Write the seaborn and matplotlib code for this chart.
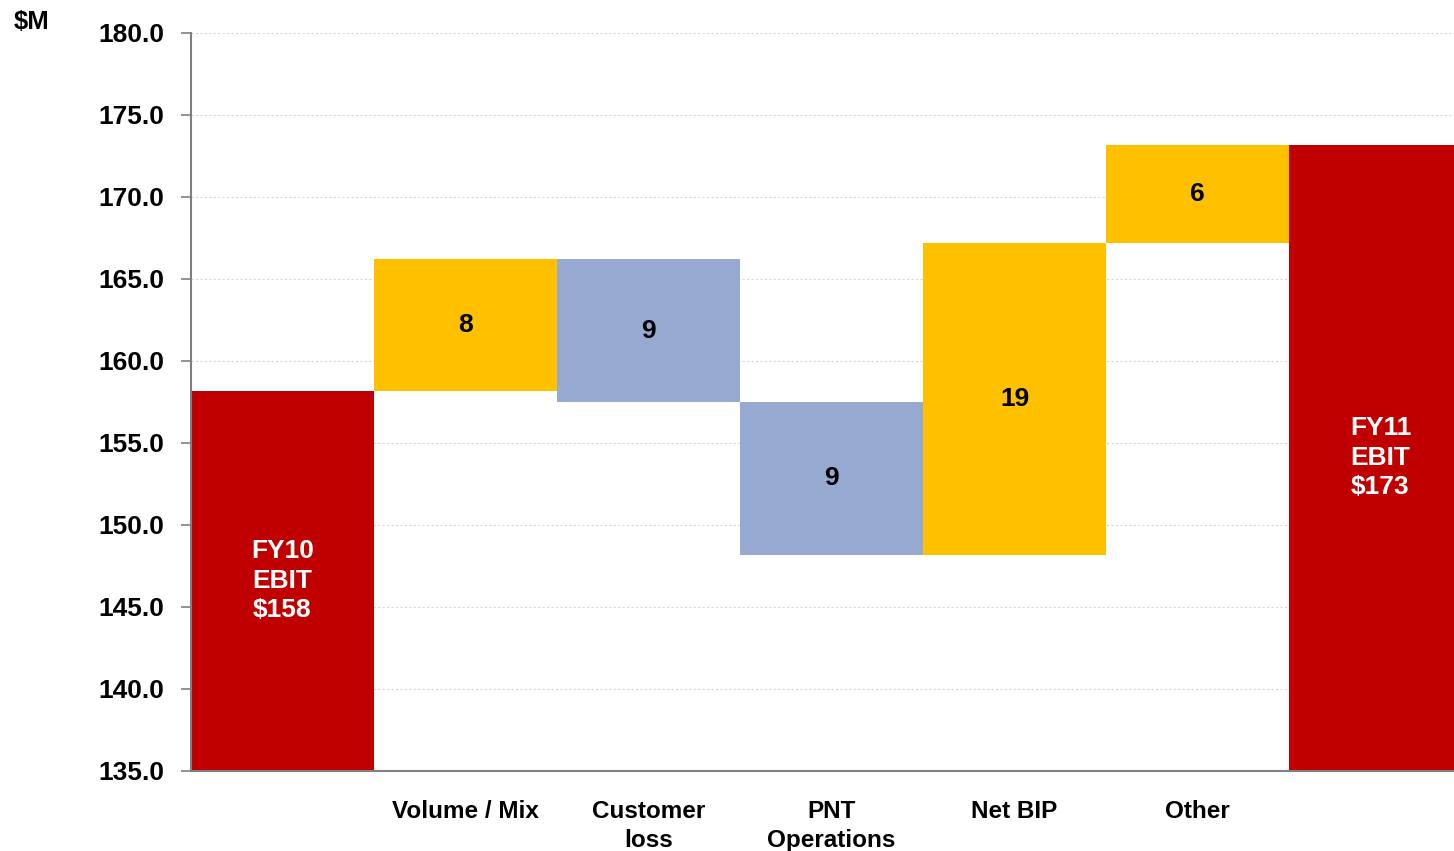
import matplotlib
matplotlib.use("Agg")
import matplotlib.pyplot as plt
import seaborn as sns
import numpy as np

# EBIT bridge, $M
categories = ["FY10", "Volume / Mix", "Customer\nloss", "PNT\nOperations", "Net BIP", "Other", "FY11"]
tick_labels = ["", "Volume / Mix", "Customer\nloss", "PNT\nOperations", "Net BIP", "Other", ""]
start_value = 158.2
changes = [8.0, -8.7, -9.3, 19.0, 6.0]
change_labels = ["8", "9", "9", "19", "6"]
end_value = 173.2
total_labels = ["FY10\nEBIT\n$158", "FY11\nEBIT\n$173"]

y_min, y_max = 135.0, 180.0
y_ticks = np.arange(135.0, 180.1, 5.0)

RED = "#C00000"
GOLD = "#FFC000"
BLUE = "#95A9D1"

sns.set_theme(style="white")
plt.rcParams["font.family"] = ["Liberation Sans", "DejaVu Sans"]
plt.rcParams["font.weight"] = "bold"
plt.rcParams["text.color"] = "black"

fig = plt.figure(figsize=(14.54, 8.51), dpi=100)
ax = fig.add_axes([191 / 1454, 80 / 851, 1281 / 1454, 738 / 851])

# Build floating segments
bottoms, heights, colors = [], [], []
bottoms.append(y_min)
heights.append(start_value - y_min)
colors.append(RED)
level = start_value
for c in changes:
    lo = min(level, level + c)
    bottoms.append(lo)
    heights.append(abs(c))
    colors.append(GOLD if c > 0 else BLUE)
    level += c
bottoms.append(y_min)
heights.append(end_value - y_min)
colors.append(RED)

for cat, b, h, col in zip(categories, bottoms, heights, colors):
    sns.barplot(x=[cat], y=[h], bottom=b, order=categories, color=col,
                width=1.0, saturation=1, linewidth=0, ax=ax, zorder=2)

# Labels inside bars
label_font = dict(fontsize=19, fontweight="bold", ha="center", va="center")
ax.text(0, (bottoms[0] + bottoms[0] + heights[0]) / 2, total_labels[0],
        color="white", linespacing=1.3, **label_font)
ax.text(6, (bottoms[6] + bottoms[6] + heights[6]) / 2, total_labels[1],
        color="white", linespacing=1.3, **label_font)
for i, lab in enumerate(change_labels, start=1):
    ax.text(i, bottoms[i] + heights[i] / 2, lab, color="black", **label_font)

ax.set_xlim(-0.5, len(categories) - 0.5)
ax.set_ylim(y_min, y_max)
ax.set_yticks(y_ticks)
ax.set_yticklabels([f"{v:.1f}" for v in y_ticks], fontsize=19, fontweight="bold", color="black")
ax.set_xticks(range(len(categories)))
ax.set_xticklabels(tick_labels, fontsize=17.5, fontweight="bold", linespacing=1.3, color="black")
ax.set_xticks(np.arange(-0.5, len(categories) - 0.5, 1.0), minor=True)
ax.tick_params(axis="x", which="major", length=0, pad=21)
ax.tick_params(axis="x", which="minor", length=6, width=1.2, color="#808080", direction="out")
ax.tick_params(axis="y", length=7, width=1.2, color="#808080", direction="out", pad=12, left=True)
ax.set_xlabel("")
ax.set_ylabel("")

ax.yaxis.grid(True, linestyle=(0, (2, 2)), color="#D6D6D6", linewidth=0.8, zorder=0)
ax.xaxis.grid(False)
ax.set_axisbelow(True)

for side in ["top", "right"]:
    ax.spines[side].set_visible(False)
for side in ["left", "bottom"]:
    ax.spines[side].set_color("#808080")
    ax.spines[side].set_linewidth(1.5)

fig.text(14 / 1454, 1 - 22 / 851, "$M", fontsize=18.5, fontweight="bold",
         va="center", ha="left", color="black")

fig.savefig("out.png", dpi=100, facecolor="white")
